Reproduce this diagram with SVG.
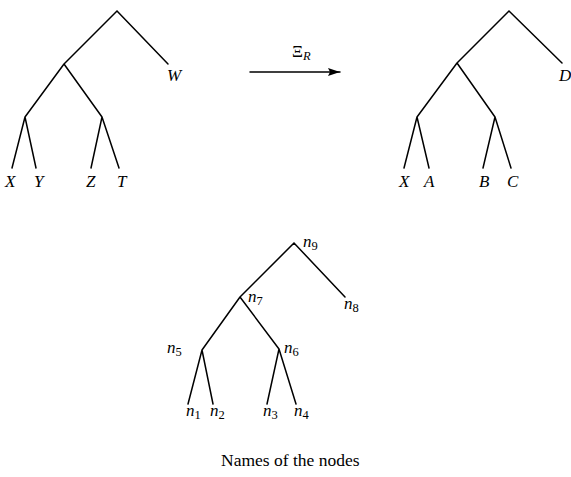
<svg xmlns="http://www.w3.org/2000/svg" width="571" height="477" viewBox="0 0 571 477">
<defs>
<style>
.e{stroke:#000;stroke-width:1.5;fill:none;stroke-linecap:round}
.t{font-family:"Liberation Serif",serif;font-size:17px;font-style:italic;fill:#000}
.s{font-style:normal;font-size:12.5px}
.c{font-family:"Liberation Serif",serif;font-size:17.5px;fill:#000}
</style>
<marker id="ah" markerWidth="12" markerHeight="8" refX="12" refY="4" orient="auto" markerUnits="userSpaceOnUse">
<path d="M0,0 L12,4 L0,8 L2,4 Z" fill="#000"/>
</marker>
</defs>
<g id="connectors">
<path class="e" d="M117,11 L168,64 M117,11 L64,64 M64,64 L25,117 M64,64 L102,117 M25,117 L12,168 M25,117 L36,168 M102,117 L91,168 M102,117 L119,168"/>
<path class="e" d="M509,11 L562,63 M509,11 L457,63 M457,63 L417,117 M457,63 L495,117 M417,117 L404,168 M417,117 L429,168 M495,117 L483,168 M495,117 L511,168"/>
<path class="e" d="M294,243 L345,297 M294,243 L240,297 M240,297 L202,350 M240,297 L279,349 M202,350 L188,404 M202,350 L213,404 M279,349 L267,404 M279,349 L296,404"/>
<line class="e" x1="250" y1="72" x2="340" y2="72" marker-end="url(#ah)"/>
</g>
<g id="tree1-labels">
<text class="t" x="5" y="187">X</text>
<text class="t" x="34" y="187">Y</text>
<text class="t" x="86" y="187">Z</text>
<text class="t" x="117" y="187">T</text>
<text class="t" x="167" y="81">W</text>
</g>
<g id="arrow-label">
<text class="t" x="292" y="57"><tspan style="font-style:normal">Ξ</tspan><tspan class="s" style="font-style:italic" dy="3">R</tspan></text>
</g>
<g id="tree2-labels">
<text class="t" x="399" y="187">X</text>
<text class="t" x="424" y="187">A</text>
<text class="t" x="479" y="187">B</text>
<text class="t" x="507" y="187">C</text>
<text class="t" x="559" y="81">D</text>
</g>
<g id="n9"><text class="t" x="303" y="247">n<tspan class="s" dy="3">9</tspan></text></g>
<g id="n8"><text class="t" x="344" y="309">n<tspan class="s" dy="3">8</tspan></text></g>
<g id="n7"><text class="t" x="248" y="302">n<tspan class="s" dy="3">7</tspan></text></g>
<g id="n6"><text class="t" x="284" y="353">n<tspan class="s" dy="3">6</tspan></text></g>
<g id="n5"><text class="t" x="167" y="353">n<tspan class="s" dy="3">5</tspan></text></g>
<g id="n1"><text class="t" x="186" y="416">n<tspan class="s" dy="3">1</tspan></text></g>
<g id="n2"><text class="t" x="210" y="416">n<tspan class="s" dy="3">2</tspan></text></g>
<g id="n3"><text class="t" x="263" y="416">n<tspan class="s" dy="3">3</tspan></text></g>
<g id="n4"><text class="t" x="294" y="416">n<tspan class="s" dy="3">4</tspan></text></g>
<text class="c" x="221" y="466">Names of the nodes</text>
</svg>
